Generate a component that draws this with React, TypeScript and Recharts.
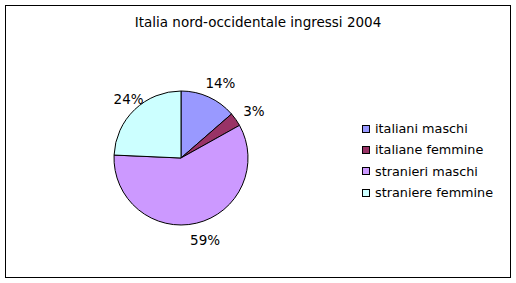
import React from "react";
import { PieChart, Pie, Cell } from "recharts";

const categories = ["italiani maschi", "italiane femmine", "stranieri maschi", "straniere femmine"];
const values = [13.6, 3.3, 58.8, 24.3];
const colors = ["#9999FF", "#993366", "#CC99FF", "#CCFFFF"];
const title = "Italia nord-occidentale ingressi 2004";

const data = categories.map((name, i) => ({ name, value: values[i] }));

const FONT = "'DejaVu Sans', Verdana, sans-serif";
const FS = 13.5;
const RAD = Math.PI / 180;

const renderLabel = (props: any) => {
  const { cx, cy, midAngle, outerRadius, percent } = props;
  const r = outerRadius + 16;
  const x = cx + r * Math.cos(-midAngle * RAD) + 5;
  const y = cy + r * Math.sin(-midAngle * RAD) + 1;
  return (
    <text x={x} y={y} textAnchor="middle" dominantBaseline="central" fill="#000" fontSize={FS} fontFamily={FONT}>
      {`${Math.round(percent * 100)}%`}
    </text>
  );
};

export default function App() {
  return (
    <div style={{ position: "absolute", left: 0, top: 0, width: 516, height: 283, background: "#fff" }}>
      <div
        style={{
          position: "absolute",
          left: 5,
          top: 5,
          width: 506,
          height: 273,
          border: "1px solid #000",
          boxSizing: "border-box",
        }}
      />
      <div
        style={{
          position: "absolute",
          left: 0,
          top: 14,
          width: 516,
          textAlign: "center",
          fontFamily: FONT,
          fontSize: FS,
          lineHeight: "17px",
        }}
      >
        {title}
      </div>
      <div style={{ position: "absolute", left: 0, top: 0 }}>
        <PieChart width={516} height={283} margin={{ top: 0, right: 0, bottom: 0, left: 0 }}>
          <Pie
            data={data}
            dataKey="value"
            nameKey="name"
            cx={181}
            cy={158}
            outerRadius={67}
            startAngle={90}
            endAngle={-270}
            stroke="#000"
            strokeWidth={1}
            label={renderLabel}
            labelLine={false}
            isAnimationActive={false}
          >
            {data.map((d, i) => (
              <Cell key={d.name} fill={colors[i]} />
            ))}
          </Pie>
        </PieChart>
      </div>
      <div
        style={{
          position: "absolute",
          left: 362,
          top: 118,
          fontFamily: FONT,
          fontSize: 12.8,
          color: "#000",
          whiteSpace: "nowrap",
        }}
      >
        {categories.map((c, i) => (
          <div key={c} style={{ display: "flex", alignItems: "center", height: 21.3 }}>
            <span
              style={{
                display: "inline-block",
                width: 8,
                height: 8,
                background: colors[i],
                border: "1px solid #000",
                boxSizing: "border-box",
                marginRight: 5,
              }}
            />
            <span>{c}</span>
          </div>
        ))}
      </div>
    </div>
  );
}
